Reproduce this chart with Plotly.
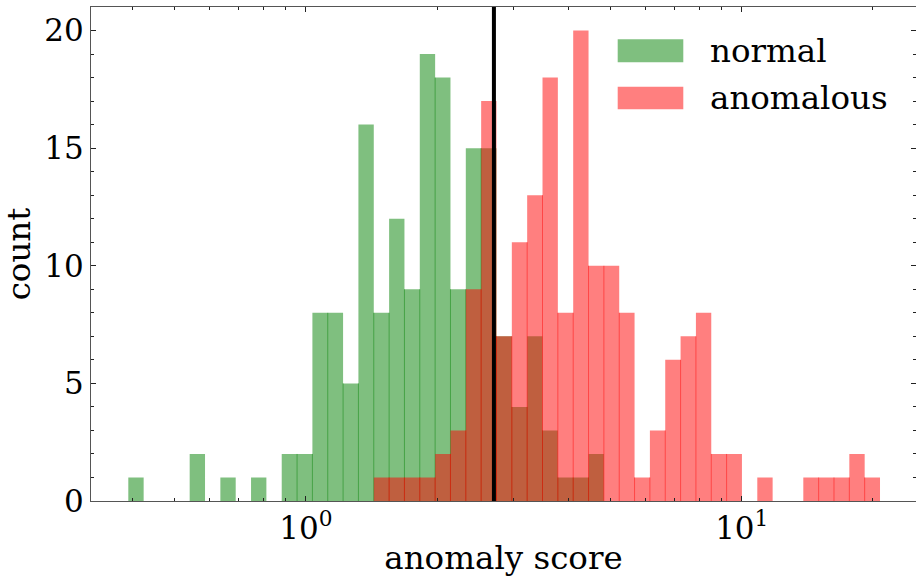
import numpy as np
import plotly.graph_objects as go

# ---- data ----
bin_min = 0.3913
bin_max = 20.76
n_bins = 49
normal_counts = [1, 0, 0, 0, 2, 0, 1, 0, 1, 0, 2, 2, 8, 8, 5, 16, 8, 12, 9, 19,
                 18, 9, 15, 15, 7, 4, 7, 3, 1, 1, 2, 0, 0, 0, 0, 0, 0, 0, 0, 0,
                 0, 0, 0, 0, 0, 0, 0, 0, 0]
anomalous_counts = [0, 0, 0, 0, 0, 0, 0, 0, 0, 0, 0, 0, 0, 0, 0, 0, 1, 1, 1, 1,
                    2, 3, 9, 17, 7, 11, 13, 18, 8, 20, 10, 10, 8, 1, 3, 6, 7, 8, 2, 2,
                    0, 1, 0, 0, 1, 1, 1, 2, 1]
threshold = 2.70
series_names = ["normal", "anomalous"]
x_tick_vals = [1, 10]
x_tick_text = ["10<sup>0</sup>", "10<sup>1</sup>"]
y_tick_vals = [0, 5, 10, 15, 20]

edges = np.logspace(np.log10(bin_min), np.log10(bin_max), n_bins + 1)

FONT = "DejaVu Serif"
FS = 32.5
TFS = 31

fig = go.Figure()


def add_hist(counts, fill, edge):
    xs = list(edges)
    ys = list(counts) + [counts[-1]]
    fig.add_trace(go.Scatter(x=xs, y=ys, mode="lines", line=dict(shape="hv", width=0, color=fill),
                             fill="tozeroy", fillcolor=fill, showlegend=False, hoverinfo="skip"))
    lx, ly = [], []
    for i in range(1, n_bins):
        h = min(counts[i - 1], counts[i])
        if h > 0:
            lx += [edges[i], edges[i], None]
            ly += [0, h, None]
    fig.add_trace(go.Scatter(x=lx, y=ly, mode="lines", line=dict(color=edge, width=1),
                             showlegend=False, hoverinfo="skip"))


add_hist(normal_counts, "rgba(0,128,0,0.5)", "rgba(0,128,0,0.45)")
add_hist(anomalous_counts, "rgba(255,0,0,0.5)", "rgba(255,0,0,0.45)")

fig.add_trace(go.Scatter(x=[threshold, threshold], y=[0, 21], mode="lines",
                         line=dict(color="black", width=4), showlegend=False, hoverinfo="skip"))

W, H = 916, 577
L, R, T, B = 91, 0, 7, 76
pw, ph = W - L - R, H - T - B


def px2paper(px, py):
    return (px - L) / pw, (H - B - py) / ph


# custom legend
for (y0, y1, col, name) in [(39.3, 62.3, "rgba(0,128,0,0.5)", series_names[0]),
                             (86.7, 109.3, "rgba(255,0,0,0.5)", series_names[1])]:
    x0p, y0p = px2paper(617.7, y1)
    x1p, y1p = px2paper(683.3, y0)
    fig.add_shape(type="rect", xref="paper", yref="paper", x0=x0p, x1=x1p, y0=y0p, y1=y1p,
                  fillcolor=col, line=dict(width=0))
    tx, ty = px2paper(708, (y0 + y1) / 2)
    fig.add_annotation(xref="paper", yref="paper", x=tx, y=ty, text=name, showarrow=False,
                       xanchor="left", yanchor="middle", font=dict(family=FONT, size=FS, color="black"))

fig.update_layout(
    width=W, height=H,
    margin=dict(l=L, r=R, t=T, b=B),
    paper_bgcolor="white", plot_bgcolor="white",
    font=dict(family=FONT, size=FS, color="black"),
    xaxis=dict(type="log", range=[-0.4931, 1.3998],
               tickmode="array", tickvals=x_tick_vals, ticktext=x_tick_text,
               ticks="inside", ticklen=5, tickwidth=1, tickcolor="#222",
               showline=True, linecolor="#555", linewidth=1.2, mirror="ticks",
               showgrid=False, zeroline=False,
               minor=dict(ticks="inside", ticklen=2.5, tickwidth=1, tickcolor="#222",
                          tickmode="array",
                          tickvals=[0.4, 0.5, 0.6, 0.7, 0.8, 0.9, 2, 3, 4, 5, 6, 7, 8, 9, 20],
                          showgrid=False),
               title=dict(text="anomaly score", font=dict(family=FONT, size=FS), standoff=2),
               tickfont=dict(family=FONT, size=TFS)),
    yaxis=dict(range=[0, 21], tickmode="array", tickvals=y_tick_vals,
               ticks="inside", ticklen=5, tickwidth=1, tickcolor="#222",
               showline=True, linecolor="#555", linewidth=1.2, mirror="ticks",
               showgrid=False, zeroline=False,
               minor=dict(ticks="inside", ticklen=2.5, tickwidth=1, tickcolor="#222", dtick=1,
                          showgrid=False),
               title=dict(text="count", font=dict(family=FONT, size=FS), standoff=6),
               tickfont=dict(family=FONT, size=TFS)),
)

fig.write_html("out.html")
